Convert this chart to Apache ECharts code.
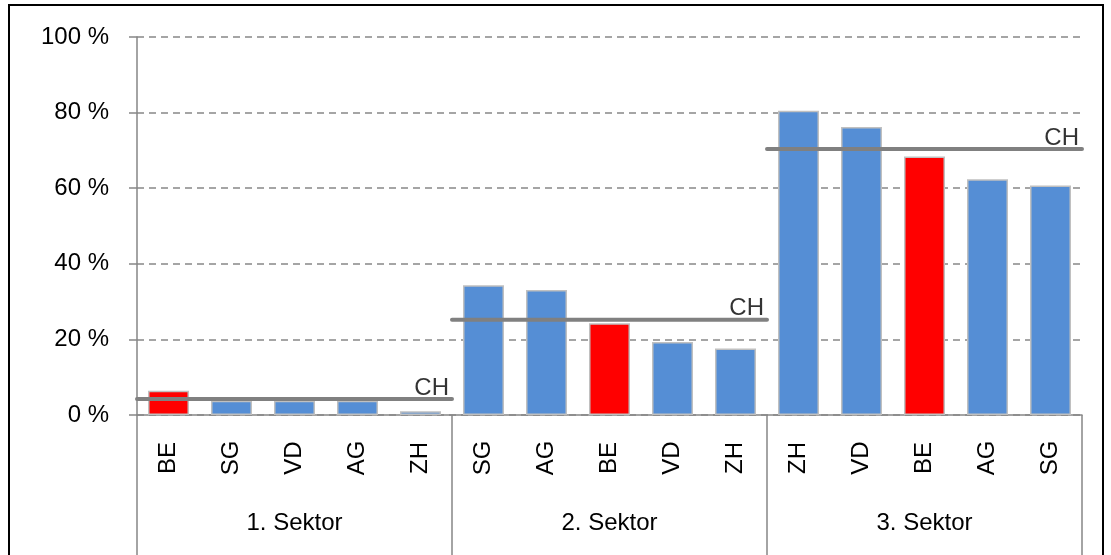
<!DOCTYPE html>
<html>
<head>
<meta charset="utf-8">
<script src="https://cdn.jsdelivr.net/npm/echarts@6/dist/echarts.min.js"></script>
<style>
html,body{margin:0;padding:0;background:#fff;}
#chart{width:1111px;height:555px;}
</style>
</head>
<body>
<div id="chart"></div>
<script>
// ---- data ----
var cantons = ['BE','SG','VD','AG','ZH', 'SG','AG','BE','VD','ZH', 'ZH','VD','BE','AG','SG'];
var shares  = [6.4, 3.8, 3.8, 3.8, 1.0, 34.3, 33.1, 24.3, 19.3, 17.6, 80.5, 76.2, 68.4, 62.4, 60.7];
var sectors = ['1. Sektor', '2. Sektor', '3. Sektor'];
var chValues = [4.2, 25.2, 70.4];
var chLabel = 'CH';
var highlight = 'BE';
var yTicks = [0, 20, 40, 60, 80, 100];

var BLUE = '#558ED5', RED = '#FF0000', GREY = '#868686';
var FONT = 'Liberation Sans, Arial, sans-serif';
var FS = 24;
var perGroup = cantons.length / sectors.length;

var barData = shares.map(function (v, i) {
  return { value: v, itemStyle: { color: cantons[i] === highlight ? RED : BLUE } };
});

var chLine = [];
var chLabels = [];
chValues.forEach(function (v, g) {
  chLine.push([g * perGroup, v]);
  chLine.push([(g + 1) * perGroup, v]);
  if (g < chValues.length - 1) chLine.push([null, null]);
  chLabels.push([(g + 1) * perGroup, v]);
});

var chart = echarts.init(document.getElementById('chart'));
chart.setOption({
  animation: false,
  backgroundColor: '#fff',
  textStyle: { fontFamily: FONT },
  grid: { left: 137, right: 29, top: 37, bottom: 140 },
  graphic: [{
    type: 'rect', silent: true, z: 100,
    shape: { x: 9, y: 5, width: 1094, height: 600 },
    style: { fill: null, stroke: '#000', lineWidth: 2 }
  }],
  yAxis: {
    type: 'value', min: yTicks[0], max: yTicks[yTicks.length - 1], interval: 20,
    axisLine: { show: true, lineStyle: { color: GREY, width: 1.5 } },
    axisTick: { show: true, length: 8, lineStyle: { color: GREY, width: 1.5 } },
    axisLabel: { formatter: '{value} %', color: '#000', fontSize: FS, fontFamily: FONT, margin: 28 },
    splitLine: { show: true, lineStyle: { color: '#888', width: 1.5, type: [7, 5] } }
  },
  xAxis: [{
    type: 'category', data: cantons, position: 'bottom',
    axisLine: { show: true, lineStyle: { color: GREY, width: 1.5 } },
    axisTick: { show: false },
    axisLabel: { interval: 0, rotate: 90, align: 'center', verticalAlign: 'middle',
      margin: 43, color: '#000', fontSize: FS, fontFamily: FONT }
  }, {
    type: 'category', data: sectors, position: 'bottom',
    axisLine: { show: false },
    axisTick: { show: true, interval: 0, length: 140, lineStyle: { color: GREY, width: 1.5 } },
    axisLabel: { interval: 0, verticalAlign: 'middle', margin: 108, color: '#000', fontSize: FS, fontFamily: FONT }
  }, {
    type: 'value', min: 0, max: cantons.length, show: false
  }],
  series: [{
    type: 'bar', xAxisIndex: 0, data: barData, barWidth: 41,
    itemStyle: { borderColor: '#C0C0C0', borderWidth: 1.5 },
    z: 2
  }, {
    type: 'line', xAxisIndex: 2, data: chLine, symbol: 'none', connectNulls: false,
    lineStyle: { color: '#808080', width: 4, cap: 'round' }, z: 3
  }, {
    type: 'scatter', xAxisIndex: 2, data: chLabels, symbolSize: 0, z: 4,
    label: { show: true, formatter: chLabel, position: [0, 0], align: 'right', verticalAlign: 'bottom',
      offset: [-3, 1], color: '#000', fontSize: FS, fontFamily: FONT }
  }]
});
</script>
</body>
</html>
